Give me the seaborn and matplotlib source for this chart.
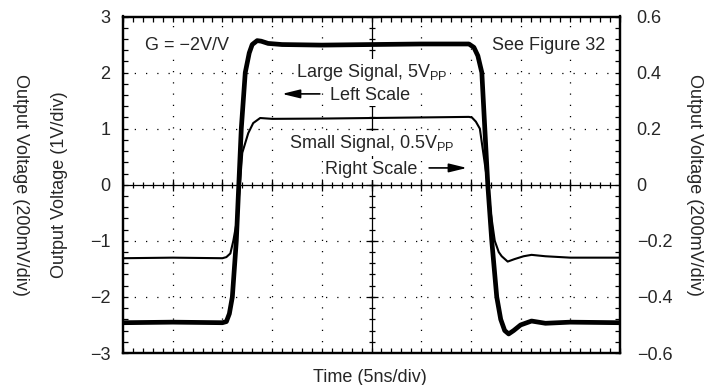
import numpy as np
import pandas as pd
import matplotlib
matplotlib.use("Agg")
import matplotlib.pyplot as plt
import seaborn as sns

# ---------------- data (time in ns, 5 ns/div) ----------------
t_large = [0, 5, 10, 10.4, 10.7, 11.0, 11.4, 11.65, 11.9, 12.3, 12.7, 13.0, 13.5, 13.9,
           14.6, 16, 20, 25, 30, 34.8, 35.3, 35.7, 36.1, 36.4, 36.7, 37.1, 37.6, 38.0,
           38.4, 38.8, 39.3, 40.0, 41.1, 42.5, 45, 50]
v_large = [-2.46, -2.45, -2.46, -2.44, -2.3, -2.0, -1.0, 0.0, 1.0, 2.0, 2.35, 2.5, 2.57, 2.56,
           2.52, 2.5, 2.49, 2.5, 2.51, 2.51, 2.45, 2.3, 2.0, 1.0, 0.0, -1.0, -2.0, -2.4,
           -2.6, -2.66, -2.6, -2.5, -2.43, -2.47, -2.45, -2.46]

t_small = [0, 5, 10, 10.4, 10.8, 11.1, 11.5, 12.0, 12.6, 13.1, 13.8, 15, 20, 25, 30, 34.8,
           35.1, 35.5, 35.9, 36.3, 36.7, 37.0, 37.4, 37.8, 38.1, 38.7, 39.4, 40.3, 41.1,
           42.5, 45, 50]
v_small = [-0.262, -0.26, -0.262, -0.258, -0.245, -0.2, -0.12, 0.114, 0.184, 0.22, 0.238,
           0.235, 0.236, 0.238, 0.24, 0.242, 0.24, 0.225, 0.2, 0.1, 0.0, -0.1, -0.2, -0.24,
           -0.255, -0.274, -0.265, -0.255, -0.25, -0.255, -0.26, -0.26]

left_ticks = [-3, -2, -1, 0, 1, 2, 3]
left_labels = ["\u22123", "\u22122", "\u22121", "0", "1", "2", "3"]
right_ticks = [-0.6, -0.4, -0.2, 0, 0.2, 0.4, 0.6]
right_labels = ["\u22120.6", "\u22120.4", "\u22120.2", "0", "0.2", "0.4", "0.6"]

df_large = pd.DataFrame({"t": t_large, "v": v_large})
df_small = pd.DataFrame({"t": t_small, "v": v_small})

# ---------------- style ----------------
sns.set_style("white")
plt.rcParams["font.family"] = ["Liberation Sans", "DejaVu Sans"]
plt.rcParams["mathtext.fontset"] = "custom"
plt.rcParams["mathtext.rm"] = "Liberation Sans"
plt.rcParams["axes.unicode_minus"] = True
FS = 13

W, H = 715, 385
fig = plt.figure(figsize=(W / 100, H / 100), dpi=100)
L, R, T, B = 123, 620, 16.5, 353
ax = fig.add_axes([L / W, 1 - B / H, (R - L) / W, (B - T) / H])
ax2 = ax.twinx()
ax2.set_position(ax.get_position())

ax.set_xlim(0, 50)
ax.set_ylim(-3, 3)
ax2.set_ylim(-0.6, 0.6)

# dotted graticule
for xv in np.arange(5, 50, 5):
    if xv != 25:
        ax.axvline(xv, color="black", lw=0.9, ls=(0, (1, 8)), zorder=1)
for yv in [-2, -1, 1, 2]:
    ax.axhline(yv, color="black", lw=0.9, ls=(0, (1, 8)), zorder=1)

# centre cross with tick marks
ax.axvline(25, color="black", lw=0.9, zorder=1)
ax.axhline(0, color="black", lw=0.9, zorder=1)
ymin_pos = np.arange(-3, 3.01, 0.2)
xmin_pos = np.arange(0, 50.01, 1)
ax.plot(np.full(len(ymin_pos), 25), ymin_pos, ls="none", marker="_", ms=5, mew=0.9,
        color="black", zorder=1)
ax.plot(xmin_pos, np.zeros(len(xmin_pos)), ls="none", marker="|", ms=5, mew=0.9,
        color="black", zorder=1)
ax.plot(np.full(7, 25), np.arange(-3, 4, 1), ls="none", marker="_", ms=9, mew=0.9,
        color="black", zorder=1)
ax.plot(np.arange(0, 51, 5), np.zeros(11), ls="none", marker="|", ms=9, mew=0.9,
        color="black", zorder=1)

# traces
sns.lineplot(data=df_large, x="t", y="v", ax=ax, color="black", lw=3.4,
             estimator=None, sort=False, zorder=3)
sns.lineplot(data=df_small, x="t", y="v", ax=ax2, color="black", lw=1.5,
             estimator=None, sort=False, zorder=3)

# ticks
ax.set_xticks(np.arange(0, 51, 5))
ax.set_xticks(np.arange(0, 51, 1), minor=True)
ax.set_yticks(left_ticks)
ax.set_yticklabels(left_labels, fontsize=FS)
ax.set_yticks(np.arange(-3, 3.01, 0.2), minor=True)
ax.set_xticklabels([])
ax.tick_params(which="both", direction="in", top=True, bottom=True, left=True, right=True,
               length=3.5, width=0.9, color="black")
ax.tick_params(axis="y", which="major", pad=9)
ax2.set_yticks(right_ticks)
ax2.set_yticklabels(right_labels, fontsize=FS)
ax2.tick_params(axis="y", which="both", length=0, pad=12)
ax.set_xlabel("")
ax.set_ylabel("")
ax2.set_ylabel("")

for a in (ax, ax2):
    for s in a.spines.values():
        s.set_linewidth(1.6)
        s.set_color("black")

# annotations (white boxes hide the graticule behind the text)
box = dict(facecolor="white", edgecolor="none", pad=1.5)
ax.text(2.2, 2.49, "G = \u22122V/V", fontsize=FS, ha="left", va="center", bbox=box, zorder=2)
ax.text(48.5, 2.49, "See Figure 32", fontsize=FS, ha="right", va="center", bbox=box, zorder=2)
ax.text(25.05, 1.93, r"Large Signal, 5V$_{\mathregular{PP}}$", fontsize=FS, ha="center",
        va="baseline", bbox=box, zorder=2)
ax.text(20.8, 1.52, "Left Scale", fontsize=FS, ha="left", va="baseline", bbox=box, zorder=2)
ax.text(25.05, 0.65, r"Small Signal, 0.5V$_{\mathregular{PP}}$", fontsize=FS,
        ha="center", va="baseline", bbox=box, zorder=2)
ax.text(20.3, 0.19, "Right Scale", fontsize=FS, ha="left", va="baseline", bbox=box, zorder=2)
arrow = dict(arrowstyle="-|>,head_length=0.9,head_width=0.22", color="black", lw=1.2,
             shrinkA=0, shrinkB=0, mutation_scale=12)
ax.annotate("", xy=(16.0, 1.62), xytext=(19.8, 1.62), arrowprops=arrow, zorder=2)
ax.annotate("", xy=(34.6, 0.30), xytext=(30.8, 0.30), arrowprops=arrow, zorder=2)

# axis titles
fig.text(370 / W, 1 - 377 / H, "Time (5ns/div)", fontsize=FS, ha="center", va="center")
fig.text(60 / W, 1 - 185 / H, "Output Voltage (1V/div)", fontsize=FS, ha="center",
         va="center", rotation=90)
fig.text(20 / W, 1 - 185 / H, "Output Voltage (200mV/div)", fontsize=FS, ha="center",
         va="center", rotation=270)
fig.text(695 / W, 1 - 185 / H, "Output Voltage (200mV/div)", fontsize=FS, ha="center",
         va="center", rotation=270)

fig.savefig("out.png", dpi=100)
